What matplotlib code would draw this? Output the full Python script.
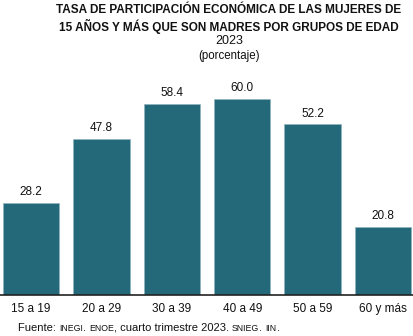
import matplotlib
matplotlib.use("Agg")
import matplotlib.pyplot as plt
from matplotlib.offsetbox import TextArea, HPacker, AnchoredOffsetbox

plt.rcParams['font.family'] = ['Liberation Sans', 'DejaVu Sans']

categories = ["15 a 19", "20 a 29", "30 a 39", "40 a 49", "50 a 59", "60 y más"]
values = [28.2, 47.8, 58.4, 60.0, 52.2, 20.8]
value_labels = ["28.2", "47.8", "58.4", "60.0", "52.2", "20.8"]
title_lines = ["TASA DE PARTICIPACIÓN ECONÓMICA DE LAS MUJERES DE",
               "15 AÑOS Y MÁS QUE SON MADRES POR GRUPOS DE EDAD"]
subtitle = "2023"
unit = "(porcentaje)"
source_parts = [("Fuente: ", False), ("INEGI", True), (". ", False), ("ENOE", True),
                (", cuarto trimestre 2023. ", False), ("SNIEG", True), (". ", False),
                ("IIN", True), (".", False)]

W, H = 414, 336
fig = plt.figure(figsize=(W / 100, H / 100), dpi=100)
ax_bottom = (H - 295) / H
ax_top = (H - 80) / H
ax = fig.add_axes([0, ax_bottom, 1, ax_top - ax_bottom])

color = "#23697A"
x = list(range(len(categories)))
bars = ax.bar(x, values, width=0.8, color=color, edgecolor="#8fb3bd", linewidth=0.4)
for xi, v, lab in zip(x, values, value_labels):
    ax.annotate(lab, (xi, v), xytext=(0, 3.5), textcoords="offset points",
                ha="center", va="bottom", fontsize=8.5, color="#111111")

ax.set_xlim(-0.44, 5.44)
ax.set_ylim(0, 65.8)
ax.set_xticks(x)
ax.set_xticklabels(categories, fontsize=8.5, color="#111111")
ax.tick_params(axis="x", length=0, pad=6)
ax.set_yticks([])
for s in ["top", "right", "left"]:
    ax.spines[s].set_visible(False)
ax.spines["bottom"].set_color("#222222")
ax.spines["bottom"].set_linewidth(1.2)

cx = 229 / W
fig.text(cx, 1 - 10 / H, title_lines[0], ha="center", va="center", fontsize=8.5, fontweight="bold", color="#111111")
fig.text(cx, 1 - 26 / H, title_lines[1], ha="center", va="center", fontsize=8.5, fontweight="bold", color="#111111")
fig.text(cx, 1 - 41 / H, subtitle, ha="center", va="center", fontsize=9, color="#111111")
fig.text(cx, 1 - 56 / H, unit, ha="center", va="center", fontsize=8.3, color="#111111")

areas = []
for txt, small in source_parts:
    areas.append(TextArea(txt, textprops=dict(fontsize=6.3 if small else 8, color="#111111")))
pack = HPacker(children=areas, align="baseline", pad=0, sep=0)
ab = AnchoredOffsetbox(loc="center left", child=pack, pad=0, frameon=False,
                       bbox_to_anchor=(18 / W, 1 - 328 / H), bbox_transform=fig.transFigure,
                       borderpad=0)
fig.add_artist(ab)

fig.savefig("out.png", dpi=100)
